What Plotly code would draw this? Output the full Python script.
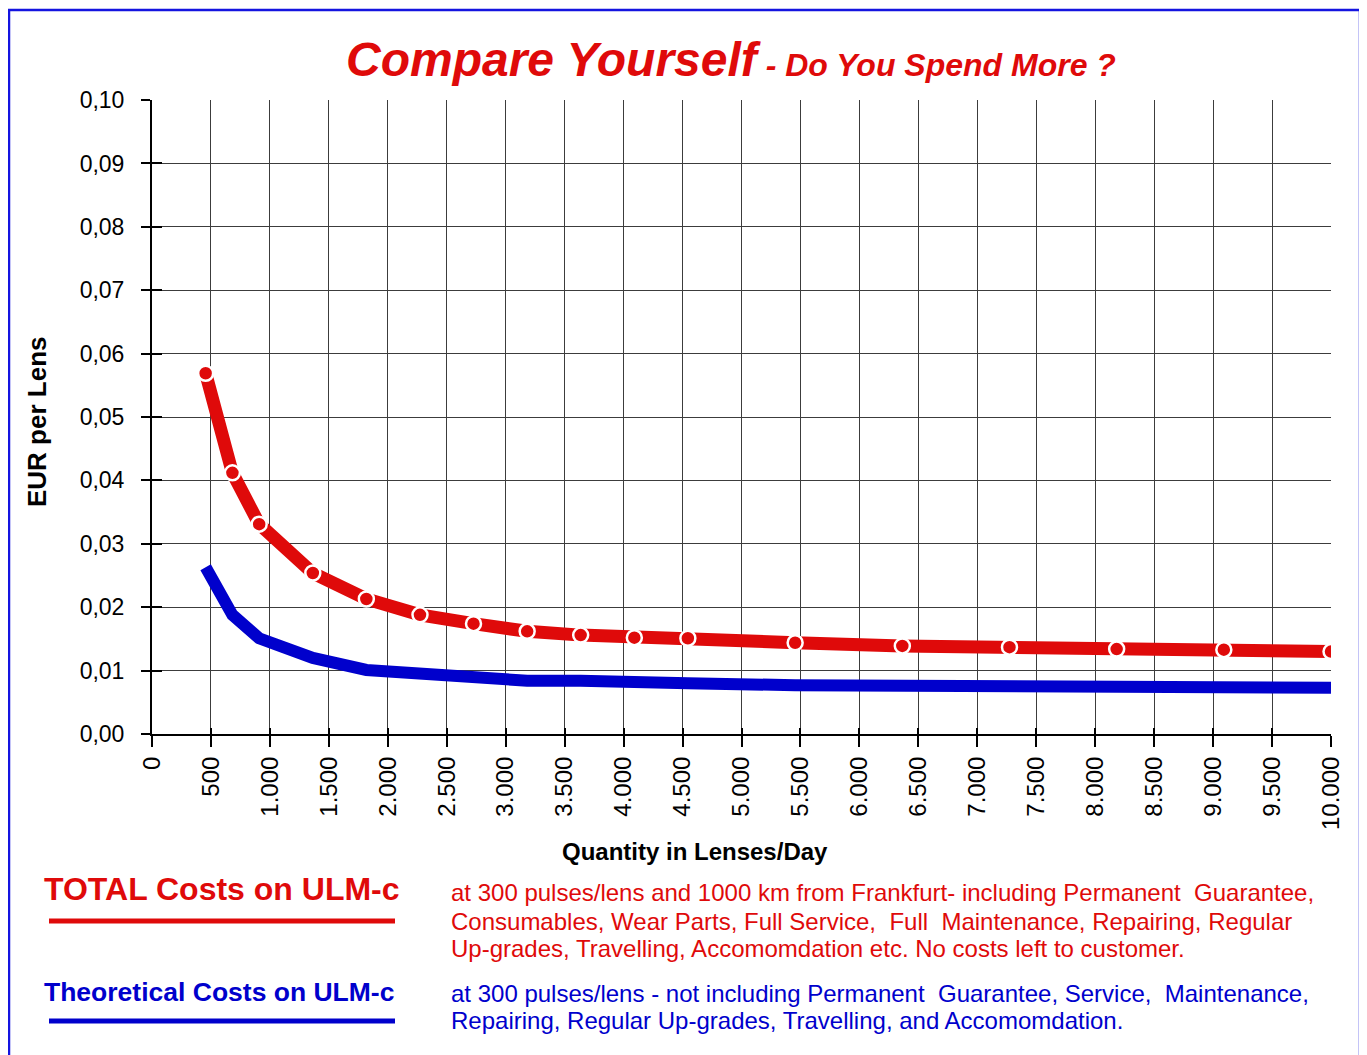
import plotly.graph_objects as go

# ---- data ----
quantity = [455, 682, 909, 1364, 1818, 2273, 2727, 3182, 3636, 4091, 4545,
            5455, 6364, 7273, 8182, 9091, 10000]
total_costs = [0.0569, 0.0412, 0.0331, 0.0254, 0.0213, 0.0188, 0.0174, 0.0162,
               0.0156, 0.0152, 0.0151, 0.0144, 0.0139, 0.0137, 0.0134, 0.0133, 0.0130]
theoretical_costs = [0.0263, 0.0188, 0.0151, 0.0120, 0.0101, 0.0094, 0.0087, 0.0084,
                     0.0084, 0.0080, 0.0080, 0.0077, 0.0076, 0.0076, 0.0073, 0.0073, 0.0073]
x_ticks = list(range(0, 10001, 500))
y_ticks = [i / 100 for i in range(0, 11)]

red_note = [
    "at 300 pulses/lens and 1000 km from Frankfurt- including Permanent  Guarantee,",
    "Consumables, Wear Parts, Full Service,  Full  Maintenance, Repairing, Regular",
    "Up-grades, Travelling, Accomomdation etc. No costs left to customer.",
]
blue_note = [
    "at 300 pulses/lens - not including Permanent  Guarantee, Service,  Maintenance,",
    "Repairing, Regular Up-grades, Travelling, and Accomomdation.",
]

RED = "#DF0A0A"
BLUE = "#0000CC"
FONT = "Arial, Liberation Sans, sans-serif"

OFF = 8  # page body margin
W, H = 1359, 1047
L, T = 152 - OFF, 100 - OFF
R = W - (1331 - OFF)
B = H - (734 - OFF)
PW, PH = W - L - R, H - T - B


def px(x):
    return (x - OFF - L) / PW


def py(y):
    return (H - B - (y - OFF)) / PH


fig = go.Figure()

fig.add_trace(go.Scatter(
    x=quantity, y=total_costs, mode="lines+markers",
    line=dict(color=RED, width=13),
    marker=dict(symbol="circle", size=15, color=RED, line=dict(color="white", width=2.5)),
    xaxis="x", yaxis="y", showlegend=False, hoverinfo="skip"))

fig.add_trace(go.Scatter(
    x=quantity, y=theoretical_costs, mode="lines",
    line=dict(color=BLUE, width=12),
    xaxis="x2", yaxis="y2", showlegend=False, hoverinfo="skip"))

axis_common = dict(showline=True, linecolor="black", linewidth=2,
                   tickcolor="black", tickwidth=2, zeroline=False)

fig.update_layout(
    width=W, height=H,
    margin=dict(l=L, r=R, t=T, b=B),
    paper_bgcolor="white", plot_bgcolor="white",
    separators=",.",
    font=dict(family=FONT, color="black"),
    xaxis=dict(range=[0, 10000], tickvals=x_ticks, tickformat=",d", tickangle=-90,
               ticks="outside", ticklen=11, showgrid=True, gridcolor="#3c3c3c", gridwidth=1,
               tickfont=dict(size=24, family=FONT), anchor="y", **axis_common),
    yaxis=dict(range=[0, 0.10001], tickvals=y_ticks, tickformat=".2f",
               ticks="outside", ticklen=9, ticklabelstandoff=12,
               showgrid=True, gridcolor="#3c3c3c", gridwidth=1,
               tickfont=dict(size=23, family=FONT), anchor="x", **axis_common),
    xaxis2=dict(range=[0, 10000], tickvals=x_ticks, overlaying="x", anchor="y2",
                ticks="inside", ticklen=6, showticklabels=False, showgrid=False,
                side="bottom", **axis_common),
    yaxis2=dict(range=[0, 0.10001], tickvals=y_ticks, overlaying="y", anchor="x2",
                ticks="inside", ticklen=10, showticklabels=False, showgrid=False,
                side="left", **axis_common),
)

annotations = [
    dict(x=px(731), y=py(60), xref="paper", yref="paper", showarrow=False,
         xanchor="center", yanchor="middle",
         text='Compare Yourself<span style="font-size:32px"> - Do You Spend More ?</span>',
         font=dict(size=48, color=RED, family=FONT, weight="bold", style="italic")),
    dict(x=px(37), y=py(422), xref="paper", yref="paper", showarrow=False,
         xanchor="center", yanchor="middle", textangle=-90,
         text="EUR per Lens", font=dict(size=26, color="black", family=FONT, weight="bold")),
    dict(x=px(695), y=py(851), xref="paper", yref="paper", showarrow=False,
         xanchor="center", yanchor="middle",
         text="Quantity in Lenses/Day", font=dict(size=24, color="black", family=FONT, weight="bold")),
    dict(x=px(42), y=py(889), xref="paper", yref="paper", showarrow=False,
         xanchor="left", yanchor="middle",
         text="TOTAL Costs on ULM-c", font=dict(size=32, color=RED, family=FONT, weight="bold")),
    dict(x=px(42), y=py(992), xref="paper", yref="paper", showarrow=False,
         xanchor="left", yanchor="middle",
         text="Theoretical Costs on ULM-c", font=dict(size=26.5, color=BLUE, family=FONT, weight="bold")),
]
for line_text, yy in zip(red_note, [892, 921, 948]):
    annotations.append(dict(x=px(449), y=py(yy), xref="paper", yref="paper", showarrow=False,
                            xanchor="left", yanchor="middle", text=line_text,
                            font=dict(size=24, color=RED, family=FONT)))
for line_text, yy in zip(blue_note, [993, 1020]):
    annotations.append(dict(x=px(449), y=py(yy), xref="paper", yref="paper", showarrow=False,
                            xanchor="left", yanchor="middle", text=line_text,
                            font=dict(size=24, color=BLUE, family=FONT)))
fig.update_layout(annotations=annotations)

shapes = [
    dict(type="line", xref="paper", yref="paper", x0=px(49), x1=px(395), y0=py(921), y1=py(921),
         line=dict(color=RED, width=5)),
    dict(type="line", xref="paper", yref="paper", x0=px(49), x1=px(395), y0=py(1021), y1=py(1021),
         line=dict(color=BLUE, width=5)),
    dict(type="rect", xref="paper", yref="paper", x0=px(9), x1=px(1360), y0=py(1090), y1=py(10),
         line=dict(color="#1414E0", width=2.5), fillcolor="rgba(0,0,0,0)", layer="above"),
]
fig.update_layout(shapes=shapes)

fig.write_html("out.html")
